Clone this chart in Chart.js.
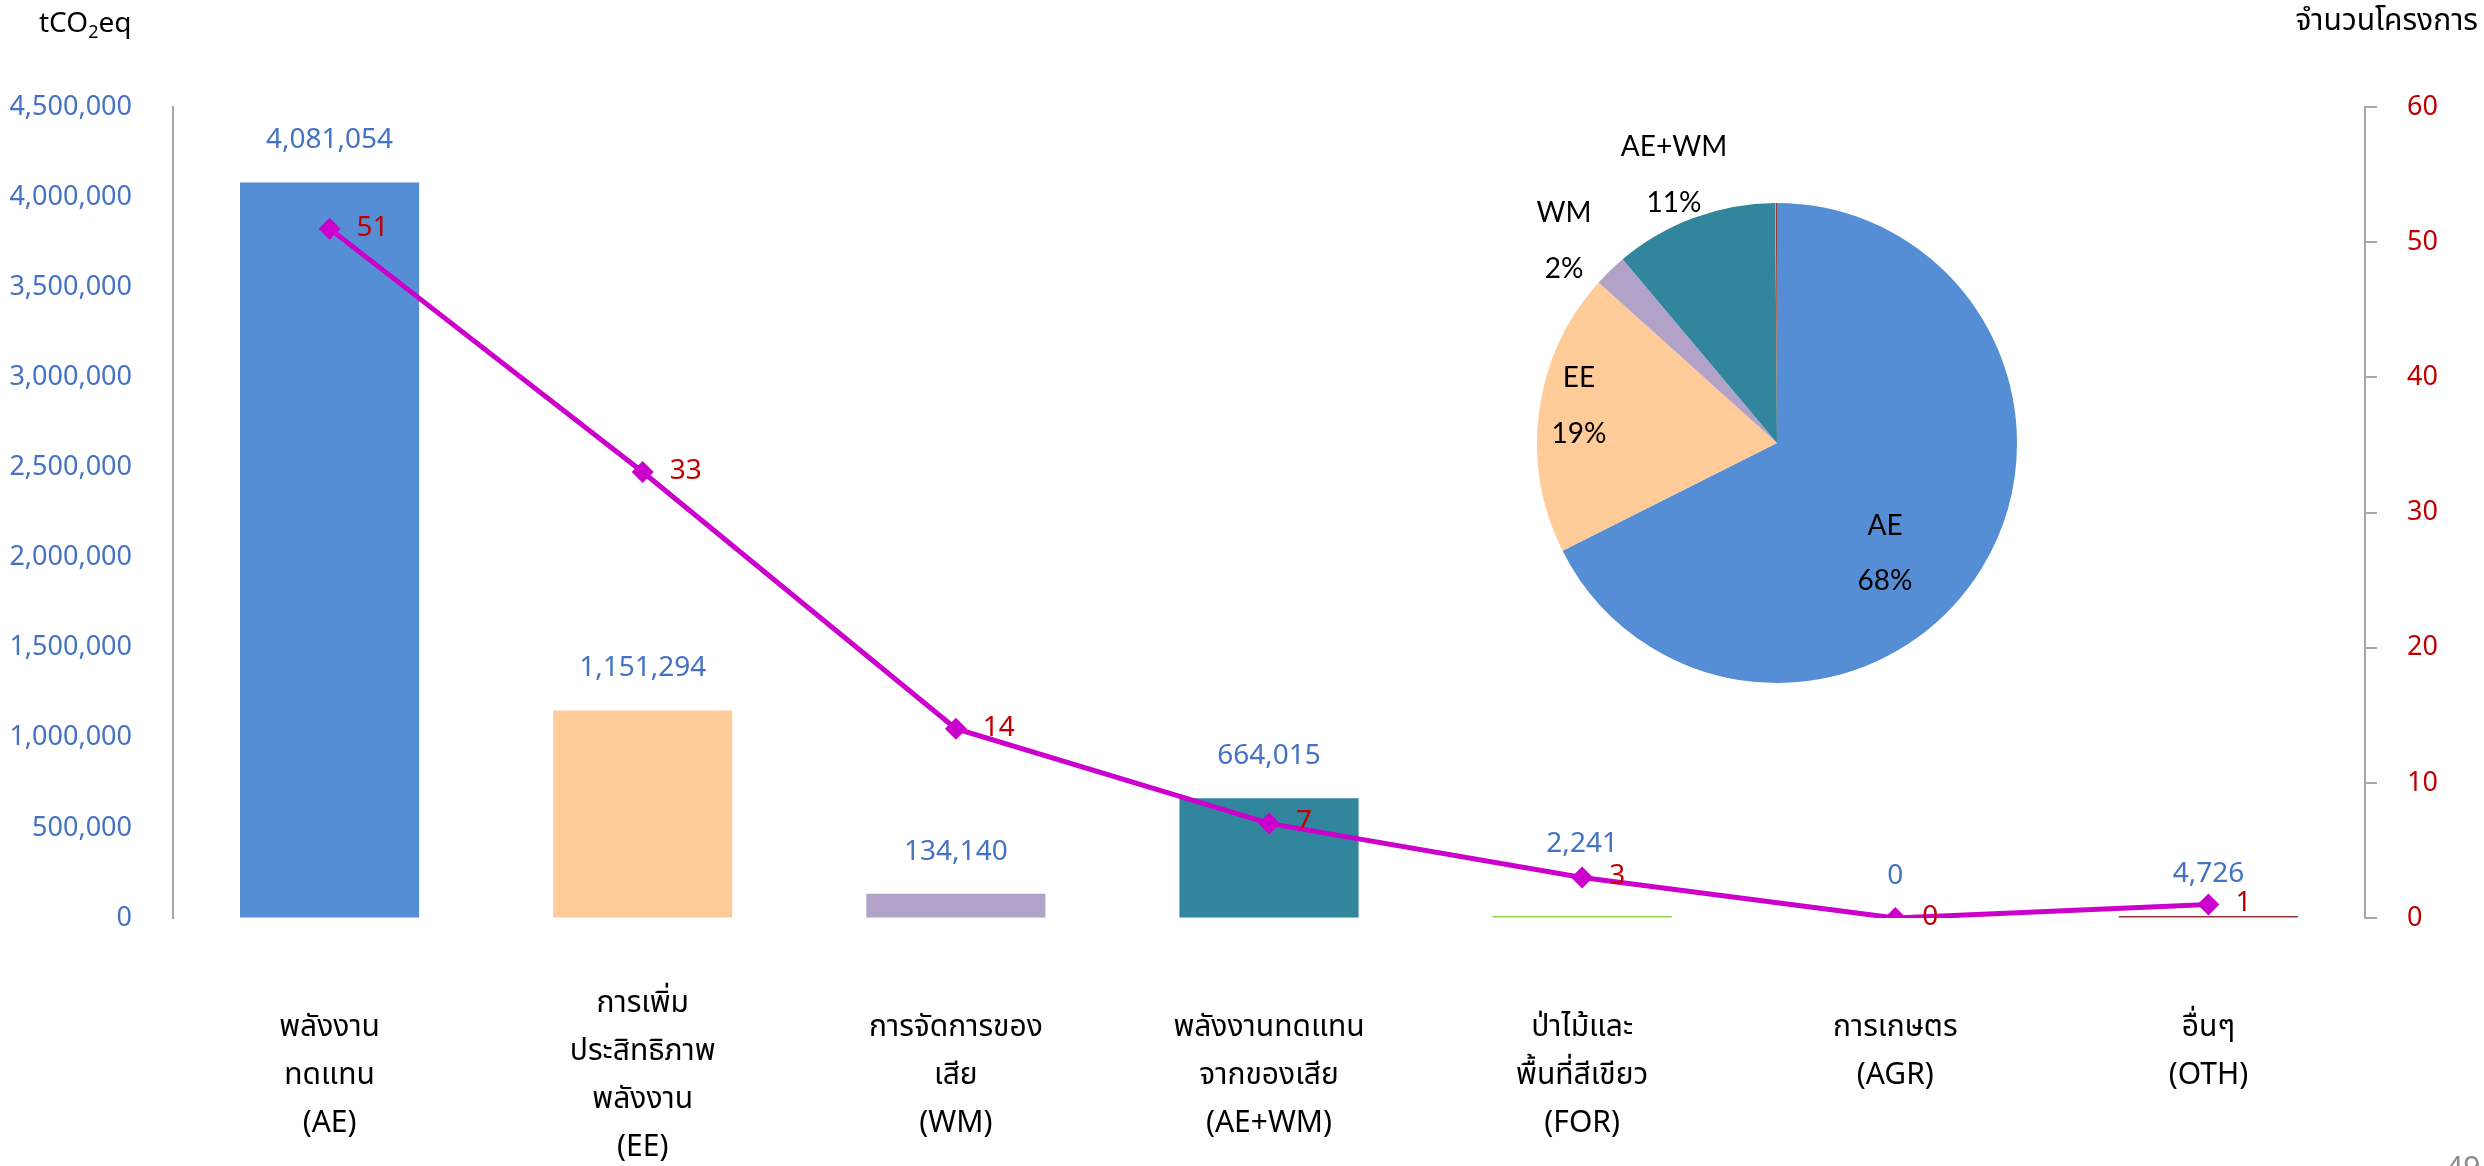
<!DOCTYPE html>
<html>
<head>
<meta charset="utf-8">
<script src="https://cdn.jsdelivr.net/npm/chart.js@4.4.1/dist/chart.umd.min.js"></script>
<style>
  html, body { margin:0; padding:0; background:#fff; width:2484px; height:1166px; overflow:hidden; }
  #main { position:absolute; left:0; top:0; width:2484px; height:1166px; }
  #pieWrap { position:absolute; left:1427px; top:93px; width:700px; height:700px; }
  .txt { position:absolute; font-family:'Noto Sans','Noto Sans Thai','Loma','Garuda','Tlwg Typo',sans-serif; color:#000; white-space:nowrap; }
  #ltitle { left:39px; top:2px; font-size:28px; }
  #ltitle sub { font-size:18px; vertical-align:-6px; line-height:0; }
  #rtitle { right:6px; top:-2px; font-size:30px; }
  #pageno { left:2446px; top:1146px; font-size:30px; color:#8C8C8C; }
</style>
</head>
<body>
<div id="main"><canvas id="c" width="2484" height="1166"></canvas></div>
<div id="pieWrap"><canvas id="p" width="700" height="700"></canvas></div>
<div class="txt" id="ltitle">tCO<sub>2</sub>eq</div>
<div class="txt" id="rtitle">จำนวนโครงการ</div>
<div class="txt" id="pageno">49</div>
<script>
// ---- data ----
const categories = [
  ['พลังงาน', 'ทดแทน', '(AE)'],
  ['การเพิ่ม', 'ประสิทธิภาพ', 'พลังงาน', '(EE)'],
  ['การจัดการของ', 'เสีย', '(WM)'],
  ['พลังงานทดแทน', 'จากของเสีย', '(AE+WM)'],
  ['ป่าไม้และ', 'พื้นที่สีเขียว', '(FOR)'],
  ['การเกษตร', '(AGR)'],
  ['อื่นๆ', '(OTH)']
];
const shortNames = ['AE', 'EE', 'WM', 'AE+WM', 'FOR', 'AGR', 'OTH'];
const emissions = [4081054, 1151294, 134140, 664015, 2241, 0, 4726];
const projects = [51, 33, 14, 7, 3, 0, 1];
const leftTicks = [0, 500000, 1000000, 1500000, 2000000, 2500000, 3000000, 3500000, 4000000, 4500000];
const rightTicks = [0, 10, 20, 30, 40, 50, 60];
const pieLabelled = ['AE', 'EE', 'WM', 'AE+WM'];

// ---- styles ----
const barColors = ['#558ED5', '#FFCC99', '#B3A2C7', '#31859C', '#92D050', '#F79646', '#953735'];
const FONT = "'Noto Sans','Noto Sans Thai','Loma','Garuda','Tlwg Typo',sans-serif";
const BLUE = '#4472C4';
const RED = '#C00000';
const AXIS = '#A6A6A6';
const fmt = v => v.toLocaleString('en-US');

const valueLabels = {
  id: 'valueLabels',
  afterDatasetsDraw(chart) {
    const ctx = chart.ctx;
    const base = chart.scales.y.getPixelForValue(0);
    ctx.save();
    ctx.textBaseline = 'middle';
    const barMeta = chart.getDatasetMeta(1);
    ctx.font = '28px ' + FONT;
    ctx.fillStyle = BLUE;
    ctx.textAlign = 'center';
    const extraLift = {4: 30};
    barMeta.data.forEach((el, i) => {
      const top = Math.min(el.y, base);
      const lift = 42 + (extraLift[i] || 0);
      ctx.fillText(fmt(emissions[i]), el.x, (emissions[i] === 0 ? base : top) - lift);
    });
    const lineMeta = chart.getDatasetMeta(0);
    ctx.fillStyle = RED;
    ctx.textAlign = 'left';
    lineMeta.data.forEach((el, i) => {
      ctx.fillText(String(projects[i]), el.x + 27, el.y - 1);
    });
    ctx.restore();
  }
};

// shift multi-line category labels up when they would run past the bottom line position
const xLabelFit = {
  id: 'xLabelFit',
  beforeDraw(chart) {
    const s = chart.scales.x;
    const items = s.getLabelItems();
    const lastLineMax = 1147;
    items.forEach(it => {
      if (it._fitted) return;
      const n = Array.isArray(it.label) ? it.label.length : 1;
      const lh = it.font.lineHeight;
      const first = it.options.translation[1] + it.textOffset;
      const over = first + (n - 1) * lh - lastLineMax;
      if (over > 0) it.textOffset -= over;
      it._fitted = true;
    });
  }
};

new Chart(document.getElementById('c'), {
  data: {
    labels: categories,
    datasets: [
      {
        type: 'line',
        order: 0,
        data: projects,
        yAxisID: 'y1',
        borderColor: '#CC00CC',
        borderWidth: 5,
        backgroundColor: '#CC00CC',
        pointStyle: 'rectRot',
        pointRadius: 11,
        pointBorderWidth: 0,
        pointBackgroundColor: '#CC00CC',
        tension: 0
      },
      {
        type: 'bar',
        order: 1,
        data: emissions,
        yAxisID: 'y',
        backgroundColor: c => (c.raw === 0 ? 'rgba(0,0,0,0)' : barColors[c.dataIndex]),
        borderWidth: 0,
        minBarLength: 2,
        barPercentage: 0.572,
        categoryPercentage: 1
      }
    ]
  },
  options: {
    responsive: false,
    animation: false,
    devicePixelRatio: 1,
    layout: { padding: { top: 107, left: 0, right: 0, bottom: 0 } },
    plugins: { legend: { display: false }, tooltip: { enabled: false } },
    scales: {
      x: {
        grid: { display: false },
        border: { display: false },
        ticks: {
          autoSkip: false, maxRotation: 0, minRotation: 0,
          padding: 77,
          color: '#000',
          font: { family: FONT, size: 30, lineHeight: '48px' }
        },
        afterFit: s => { s.height = 248; }
      },
      y: {
        position: 'left',
        min: 0, max: 4500000,
        afterBuildTicks: s => { s.ticks = leftTicks.map(v => ({ value: v })); },
        grid: { display: true, drawOnChartArea: false, drawTicks: false },
        border: { display: true, color: AXIS, width: 2 },
        ticks: {
          padding: 41,
          color: BLUE,
          font: { family: FONT, size: 27 },
          callback: v => fmt(v)
        },
        afterFit: s => { s.width = 173; }
      },
      y1: {
        position: 'right',
        min: 0, max: 60,
        afterBuildTicks: s => { s.ticks = rightTicks.map(v => ({ value: v })); },
        grid: { display: true, drawOnChartArea: false, drawTicks: true, tickLength: 12, color: AXIS, lineWidth: 2 },
        border: { display: true, color: AXIS, width: 2 },
        ticks: {
          padding: 30,
          color: RED,
          font: { family: FONT, size: 27 }
        },
        afterFit: s => { s.width = 119; }
      }
    }
  },
  plugins: [valueLabels, xLabelFit]
});

// ---- pie ----
const pieLabelPos = {
  'AE':    { dx: 108,  dy: [83, 138] },
  'EE':    { dx: -198, dy: [-65, -9] },
  'WM':    { dx: -213, dy: [-230, -174] },
  'AE+WM': { dx: -103, dy: [-296, -240] }
};
const pieLabels = {
  id: 'pieLabels',
  afterDatasetsDraw(chart) {
    const ctx = chart.ctx;
    const arc = chart.getDatasetMeta(0).data[0];
    const cx = arc.x, cy = arc.y;
    const total = emissions.reduce((a, b) => a + b, 0);
    ctx.save();
    ctx.font = "28px Lato, 'Noto Sans', sans-serif";
    ctx.fillStyle = '#000';
    ctx.textAlign = 'center';
    ctx.textBaseline = 'middle';
    shortNames.forEach((name, i) => {
      if (!pieLabelled.includes(name)) return;
      const pos = pieLabelPos[name];
      const lines = [name, Math.round(emissions[i] / total * 100) + '%'];
      lines.forEach((t, k) => ctx.fillText(t, cx + pos.dx, cy + pos.dy[k]));
    });
    ctx.restore();
  }
};
new Chart(document.getElementById('p'), {
  type: 'pie',
  data: {
    labels: shortNames,
    datasets: [{ data: emissions, backgroundColor: barColors, borderWidth: 0 }]
  },
  options: {
    responsive: false,
    animation: false,
    devicePixelRatio: 1,
    layout: { padding: 110 },
    plugins: { legend: { display: false }, tooltip: { enabled: false } }
  },
  plugins: [pieLabels]
});
</script>
</body>
</html>
